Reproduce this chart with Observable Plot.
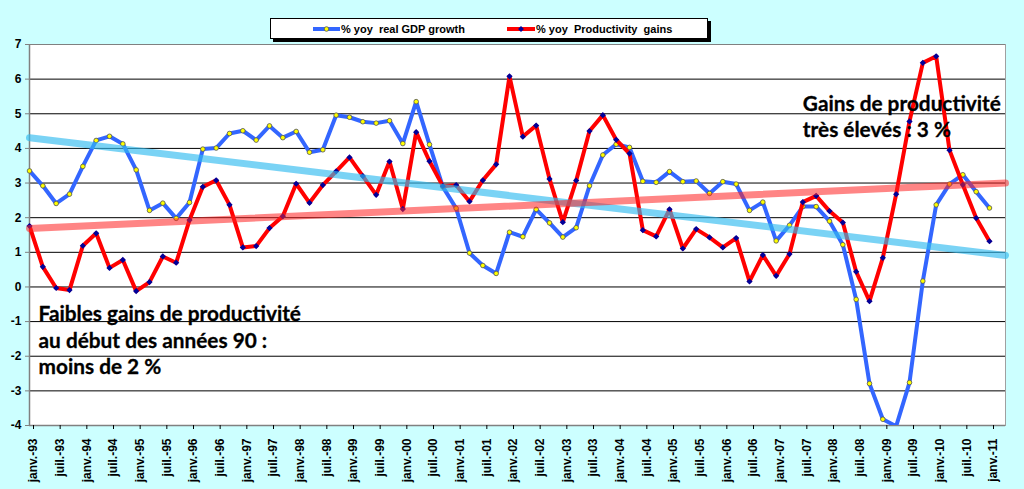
<!DOCTYPE html>
<html>
<head>
<meta charset="utf-8">
<script src="https://cdn.jsdelivr.net/npm/d3@7"></script>
<script src="https://cdn.jsdelivr.net/npm/@observablehq/plot@0.6"></script>
<style>
  html, body { margin: 0; padding: 0; background: #ccffff; }
  #wrap { position: relative; width: 1024px; height: 489px; background: #ccffff; overflow: hidden; }
  #legend { position: absolute; left: 270px; top: 18px; width: 438px; height: 21px; background: #fff;
            border: 1px solid #000; box-shadow: 3px 3px 0 #000; box-sizing: border-box;
            font: bold 11px "Liberation Sans", Arial, sans-serif; color: #000; }
  #legend .item { position: absolute; top: 0; height: 19px; display: flex; align-items: center; white-space: pre; }
  #legend svg { display: block; }
</style>
</head>
<body>
<div id="wrap">
  <div id="chart"></div>
  <div id="legend"></div>
</div>
<script>
// ---- Data ----
const xLabels = ["janv.-93","juil.-93","janv.-94","juil.-94","janv.-95","juil.-95","janv.-96","juil.-96",
  "janv.-97","juil.-97","janv.-98","juil.-98","janv.-99","juil.-99","janv.-00","juil.-00","janv.-01","juil.-01",
  "janv.-02","juil.-02","janv.-03","juil.-03","janv.-04","juil.-04","janv.-05","juil.-05","janv.-06","juil.-06",
  "janv.-07","juil.-07","janv.-08","juil.-08","janv.-09","juil.-09","janv.-10","juil.-10","janv.-11"];

const gdpGrowth = [3.35,2.92,2.41,2.68,3.48,4.23,4.35,4.13,3.38,2.21,2.42,1.98,2.44,3.98,4.01,4.43,
  4.51,4.24,4.65,4.31,4.49,3.89,3.96,4.96,4.90,4.77,4.73,4.80,4.14,5.35,4.11,2.89,
  2.27,0.98,0.62,0.39,1.58,1.45,2.24,1.85,1.44,1.71,2.92,3.81,4.12,4.03,3.05,3.02,
  3.33,3.04,3.06,2.70,3.04,2.97,2.21,2.45,1.33,1.78,2.32,2.32,1.90,1.22,-0.36,-2.79,
  -3.82,-4.02,-2.76,0.17,2.37,2.97,3.24,2.75,2.28];

const productivity = [1.76,0.58,-0.03,-0.09,1.19,1.55,0.55,0.78,-0.12,0.14,0.88,0.70,1.93,2.89,3.08,2.37,
  1.14,1.18,1.70,2.04,2.98,2.43,2.94,3.34,3.74,3.20,2.66,3.62,2.25,4.47,3.63,2.91,
  2.94,2.47,3.08,3.54,6.08,4.34,4.66,3.12,1.87,3.07,4.50,4.96,4.25,3.85,1.64,1.46,
  2.24,1.11,1.67,1.43,1.14,1.41,0.16,0.92,0.32,0.95,2.45,2.63,2.19,1.86,0.44,-0.41,
  0.84,2.68,4.78,6.47,6.66,3.95,2.95,1.99,1.32];

// trend lines (end points, in quarter index)
const trendX = [0, 73.2];
const trendGdp = [4.31, 0.91];
const trendProd = [1.69, 3.00];

const yTicks = [-4,-3,-2,-1,0,1,2,3,4,5,6,7];

const noteText = ["Gains de productivité\ntrès élevés : 3 %", "Faibles gains de productivité\nau début des années 90 :\nmoins de 2 %"];
const noteX = [58.0, 0.68];
const noteY = [5.62, -0.45];

const seriesNames = ["% yoy  real GDP growth", "% yoy  Productivity  gains"];

// ---- Chart ----
const idx = d3.range(gdpGrowth.length);
const chart = Plot.plot({
  width: 1024,
  height: 489,
  marginLeft: 29,
  marginRight: 19,
  marginTop: 44,
  marginBottom: 64,
  style: { background: "#ccffff", fontFamily: "'Liberation Sans', Arial, sans-serif" },
  x: { type: "linear", domain: [0, 73.2] },
  y: { domain: [-4, 7] },
  marks: [
    Plot.frame({ fill: "#fff", stroke: "#a0a0a0" }),
    Plot.ruleY(yTicks.filter(d => d > -4 && d < 7), { stroke: "#000", strokeWidth: 1 }),
    Plot.ruleY([7], { stroke: "#808080", strokeWidth: 1 }),
    Plot.ruleY([-4], { stroke: "#808080", strokeWidth: 1.5 }),
    Plot.ruleX([0], { stroke: "#808080", strokeWidth: 1.5 }),
    Plot.line(idx, { x: i => i, y: i => gdpGrowth[i], stroke: "#3366ff", strokeWidth: 4, strokeLinejoin: "round", clip: true }),
    Plot.dot(idx.filter(i => gdpGrowth[i] >= -4), { x: i => i, y: i => gdpGrowth[i], r: 2.3, fill: "#ffff00", stroke: "#555", strokeWidth: 0.8 }),
    Plot.line(idx, { x: i => i, y: i => productivity[i], stroke: "#ff0000", strokeWidth: 4, strokeLinejoin: "round", clip: true }),
    Plot.dot(idx, { x: i => i, y: i => productivity[i], symbol: "diamond2", r: 2.8, fill: "#000099" }),
    Plot.line(trendX, { x: d => d, y: (d, i) => trendGdp[i], stroke: "#33bbf0", strokeOpacity: 0.65, strokeWidth: 7 }),
    Plot.line(trendX, { x: d => d, y: (d, i) => trendProd[i], stroke: "#ff2020", strokeOpacity: 0.55, strokeWidth: 7 }),
    Plot.text(noteText, { x: (d, i) => noteX[i], y: (d, i) => noteY[i], text: d => d, textAnchor: "start",
      lineAnchor: "top", lineHeight: 1.27, fontSize: 20.8, fontWeight: "bold", fill: "#000",
      stroke: "#000", strokeWidth: 0.3,
      fontFamily: "Lato, 'Open Sans', sans-serif" }),
    Plot.axisY(yTicks, { tickSize: 4, tickPadding: 4, fontSize: 12, fontWeight: "bold", tickFormat: d => `${d}`, stroke: "#808080", fill: "#000" }),
    Plot.axisX(d3.range(0, 73, 2), { tickSize: 4, tickPadding: 9, tickRotate: -90, fontSize: 12, fontWeight: "bold",
      tickFormat: d => xLabels[d / 2], stroke: "#000", fill: "#000", dx: 4 })
  ]
});
document.getElementById("chart").appendChild(chart);

// ---- Legend ----
const legend = d3.select("#legend");
const items = [
  { name: seriesNames[0], color: "#3366ff", left: 42, lineW: 27, marker: "circle" },
  { name: seriesNames[1], color: "#ff0000", left: 236, lineW: 28, marker: "diamond" }
];
items.forEach(it => {
  const div = legend.append("div").attr("class", "item").style("left", it.left + "px");
  const svg = div.append("svg").attr("width", it.lineW).attr("height", 10);
  svg.append("line").attr("x1", 0).attr("x2", it.lineW).attr("y1", 5).attr("y2", 5)
    .attr("stroke", it.color).attr("stroke-width", 4);
  if (it.marker === "circle") {
    svg.append("circle").attr("cx", it.lineW / 2).attr("cy", 5).attr("r", 2.3)
      .attr("fill", "#ffff00").attr("stroke", "#555").attr("stroke-width", 0.8);
  } else {
    svg.append("path").attr("transform", `translate(${it.lineW / 2},5)`)
      .attr("d", d3.symbol(d3.symbolDiamond2, 22)()).attr("fill", "#000099");
  }
  div.append("span").text(it.name).style("margin-left", "1px");
});
</script>
</body>
</html>
